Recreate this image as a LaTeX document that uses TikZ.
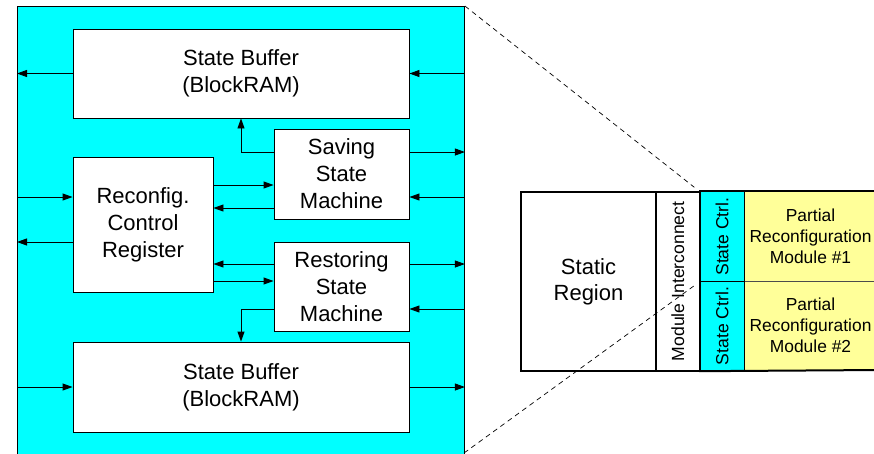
\documentclass[tikz,border=0pt]{standalone}
\usepackage{fontspec}
\setmainfont{Liberation Sans}
\usetikzlibrary{arrows.meta,calc}
\definecolor{cyanbg}{RGB}{0,255,255}
\definecolor{prmyellow}{RGB}{255,255,153}
\tikzset{
  box/.style={draw=black, fill=white, line width=0.9pt, inner sep=0pt, align=center,
    font=\fontsize{22}{27}\selectfont},
  arr/.style={line width=0.9pt, -{Triangle[length=10pt,width=7pt]}},
  plain/.style={line width=0.9pt},
  cell/.style={draw=black, line width=1.2pt, inner sep=0pt, align=center},
  zoomline/.style={line width=0.7pt, dash pattern=on 5pt off 4pt},
}
\begin{document}
\begin{tikzpicture}[x=1pt,y=-1pt]
\clip (0,0) rectangle (874,453);
\useasboundingbox (0,0) rectangle (874,453);
% outer cyan block
\node[draw=black, fill=cyanbg, line width=0.9pt, inner sep=0pt, minimum width=447pt, minimum height=452pt, anchor=north west] (outer) at (17,6) {};
% inner blocks
\node[box, minimum width=336pt, minimum height=89pt] (sbt) at (241,73.5) {State Buffer\\(BlockRAM)};
\node[box, minimum width=135pt, minimum height=90pt] (sav) at (341.5,174) {Saving\\State\\Machine};
\node[box, minimum width=140pt, minimum height=135pt] (rcr) at (143,224.5) {Reconfig.\\Control\\Register};
\node[box, minimum width=135pt, minimum height=89pt] (rst) at (341.5,286.5) {Restoring\\State\\Machine};
\node[box, minimum width=336pt, minimum height=90pt] (sbb) at (241,387) {State Buffer\\(BlockRAM)};
% connectors
\draw[arr] (sbt.west) -- (sbt.west -| outer.west);
\draw[arr] (sbt.east -| outer.east) -- (sbt.east);
\draw[arr] (sav.west |- 0,152) -| (241,0 |- sbt.south);
\draw[arr] (sav.east |- 0,152) -- (outer.east |- 0,152);
\draw[arr] (rcr.east |- 0,185) -- (sav.west |- 0,185);
\draw[arr] (sav.west |- 0,208) -- (rcr.east |- 0,208);
\draw[arr] (outer.east |- 0,197) -- (sav.east |- 0,197);
\draw[arr] (outer.west |- 0,197) -- (rcr.west |- 0,197);
\draw[arr] (rcr.west |- 0,242) -- (outer.west |- 0,242);
\draw[arr] (rst.west |- 0,264) -- (rcr.east |- 0,264);
\draw[arr] (rcr.east |- 0,281) -- (rst.west |- 0,281);
\draw[arr] (rst.east |- 0,264) -- (outer.east |- 0,264);
\draw[arr] (outer.east |- 0,309) -- (rst.east |- 0,309);
\draw[arr] (rst.west |- 0,309) -| (241,0 |- sbb.north);
\draw[arr] (outer.west |- sbb.west) -- (sbb.west);
\draw[arr] (sbb.east) -- (outer.east |- sbb.east);
% right diagram
\node[cell, fill=prmyellow, minimum width=136pt, minimum height=90pt, anchor=north west, draw=black!70, line width=0.8pt] (pr1) at (744,191) {};
\node[cell, fill=prmyellow, minimum width=136pt, minimum height=89pt, anchor=north west, draw=black!70, line width=0.8pt] (pr2) at (744,281) {};
\node[align=center, font=\fontsize{17.4}{21}\selectfont] at (810.5,236) {Partial\\Reconfiguration\\Module \#1};
\node[align=center, font=\fontsize{17.4}{21}\selectfont] at (810.5,325.5) {Partial\\Reconfiguration\\Module \#2};
\node[cell, fill=cyanbg, minimum width=45pt, minimum height=90pt, anchor=north west] (sc1) at (699,191) {};
\node[cell, fill=cyanbg, minimum width=45pt, minimum height=89pt, anchor=north west] (sc2) at (699,281) {};
\node[rotate=90, font=\fontsize{17.6}{20}\selectfont] at (sc1.center) {State Ctrl.};
\node[rotate=90, font=\fontsize{17.6}{20}\selectfont] at (sc2.center) {State Ctrl.};
\node[cell, fill=white, minimum width=44pt, minimum height=179pt, anchor=north west, line width=1.8pt] (mi) at (655,191) {};
\node[rotate=90, font=\fontsize{17.6}{20}\selectfont] at (mi.center) {Module Interconnect};
\node[cell, fill=white, minimum width=135pt, minimum height=179pt, anchor=north west, line width=2pt, font=\fontsize{22}{26}\selectfont] (sr) at (520,191) {Static\\Region};
\draw[line width=2pt] (sc1.north west) -- (880,191);
\draw[line width=2pt] (sc2.south west) -- (880,370);
% zoom lines
\draw[zoomline, shorten >=6pt] (outer.north east) -- (sc1.north west);
\draw[zoomline, shorten >=5pt] (464,453) -- (sc1.south west);
\end{tikzpicture}
\end{document}
